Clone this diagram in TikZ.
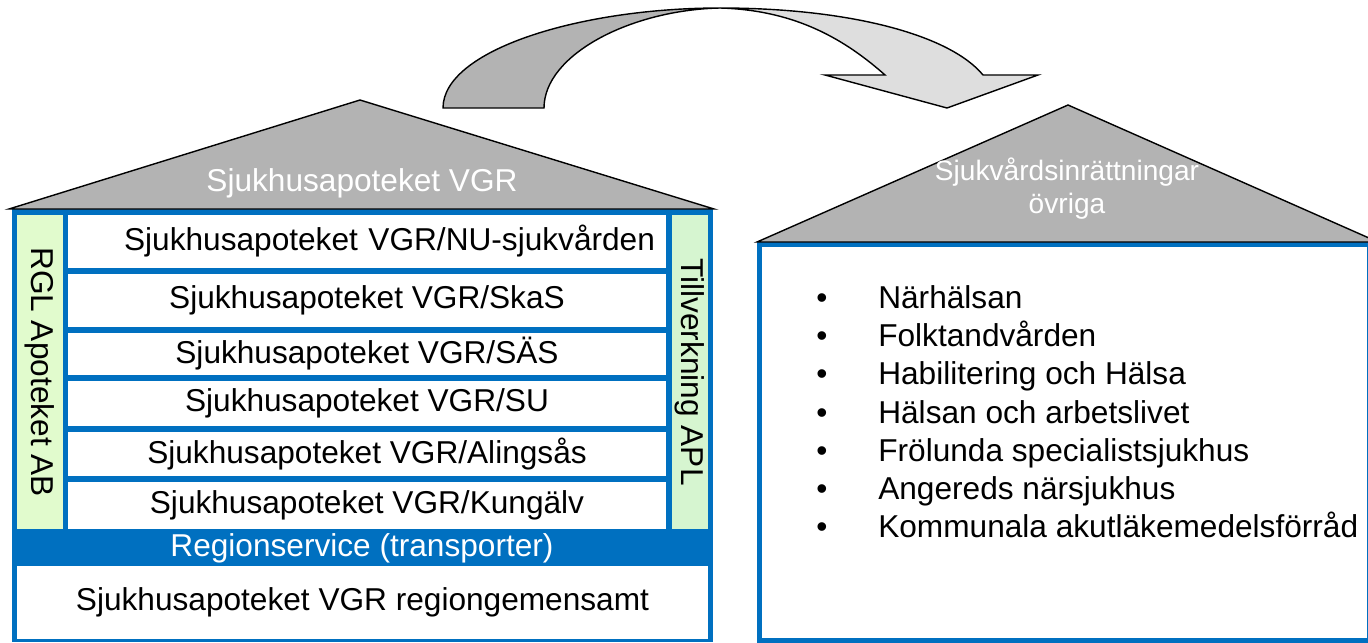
\documentclass[tikz,border=0pt]{standalone}
\usepackage{fontspec}
\setmainfont{Liberation Sans}
\definecolor{vgrblue}{HTML}{0070C0}
\definecolor{roofgray}{HTML}{B3B3B3}
\definecolor{arrowlight}{HTML}{DEDEDE}
\definecolor{leftgreen}{HTML}{E1FBCD}
\definecolor{rightgreen}{HTML}{D6F5D0}
\newcommand\rowfont{\fontsize{18}{21}\selectfont}
\newcommand\rooffont{\fontsize{16}{18.7}\selectfont}
\newcommand\bul{\makebox[1.24cm][l]{\textbullet}}

\begin{document}
\begin{tikzpicture}[x=0.02cm, y=-0.02cm,
    rowbox/.style={fill=white, inner sep=0pt, minimum width=11.96cm, font=\rowfont},
    sidebox/.style={inner sep=0pt, rotate=-90, minimum width=6.28cm, font=\rowfont},
    roof/.style={fill=roofgray, draw=black, line width=0.8pt},
    listitem/.style={anchor=base west, inner sep=0pt, font=\rowfont}]
    \useasboundingbox (0,0) rectangle (1368,642);

    % curved arrow
    \filldraw [fill=roofgray, line width=0.8pt] (443,108) .. controls (443,50) and (580,8) .. (720,8)
        .. controls (630,10) and (544,55) .. (544,108) -- cycle;
    \filldraw [fill=arrowlight, line width=0.8pt] (720,8) .. controls (850,8) and (950,35) .. (983,75)
        -- (1038,75) -- (947,108) -- (825,75) -- (885,75)
        .. controls (840,35) and (790,10) .. (720,8) -- cycle;

    % left house
    \fill [vgrblue] (12,209) rectangle (713,642);
    \draw [roof] (9,209) -- (360,100) -- (714,209) -- cycle;
    \node [font=\rowfont, text=white] (vgr) at (362,183) {Sjukhusapoteket VGR};

    \node [sidebox, fill=leftgreen, minimum height=0.92cm] (rgl) at (40,372) {RGL Apoteket AB};
    \node [sidebox, fill=rightgreen, minimum height=0.72cm] (apl) at (690,372) {Tillverkning APL};

    \node [rowbox, minimum height=1.06cm, align=right, text width=11.52cm] (nu) at (367,241.5) {Sjukhusapoteket VGR/NU-sjukvården};
    \node [rowbox, minimum height=1.06cm] (skas) at (367,300.5) {Sjukhusapoteket VGR/SkaS};
    \node [rowbox, minimum height=0.84cm] (sas) at (367,354) {Sjukhusapoteket VGR/SÄS};
    \node [rowbox, minimum height=0.9cm] (su) at (367,403.5) {Sjukhusapoteket VGR/SU};
    \node [rowbox, minimum height=0.88cm] (alingsas) at (367,454) {Sjukhusapoteket VGR/Alingsås};
    \node [rowbox, minimum height=0.94cm] (kungalv) at (367,505.5) {Sjukhusapoteket VGR/Kungälv};

    \node [font=\rowfont, text=white] (transport) at (362,548) {Regionservice (transporter)};
    \node [rowbox, minimum width=13.82cm, minimum height=1.46cm] (gemensamt) at (362.5,602.5) {Sjukhusapoteket VGR regiongemensamt};

    % right house
    \node [draw=vgrblue, line width=0.1cm, minimum width=12.21cm, minimum height=7.92cm, inner sep=0pt] (ovriga) at (1064.75,442.5) {};
    \draw [roof] (757,242) -- (1068,105) -- (1378,242) -- cycle;
    \node [font=\rooffont, text=white, align=center] (sjukvard) at (1067,189) {Sjukvårdsinrättningar\\övriga};

    \node [listitem] (i1) at (816,308) {\bul Närhälsan};
    \node [listitem] (i2) at (816,346) {\bul Folktandvården};
    \node [listitem] (i3) at (816,384) {\bul Habilitering och Hälsa};
    \node [listitem] (i4) at (816,423) {\bul Hälsan och arbetslivet};
    \node [listitem] (i5) at (816,461) {\bul Frölunda specialistsjukhus};
    \node [listitem] (i6) at (816,499) {\bul Angereds närsjukhus};
    \node [listitem] (i7) at (816,537) {\bul Kommunala akutläkemedelsförråd};
\end{tikzpicture}
\end{document}
